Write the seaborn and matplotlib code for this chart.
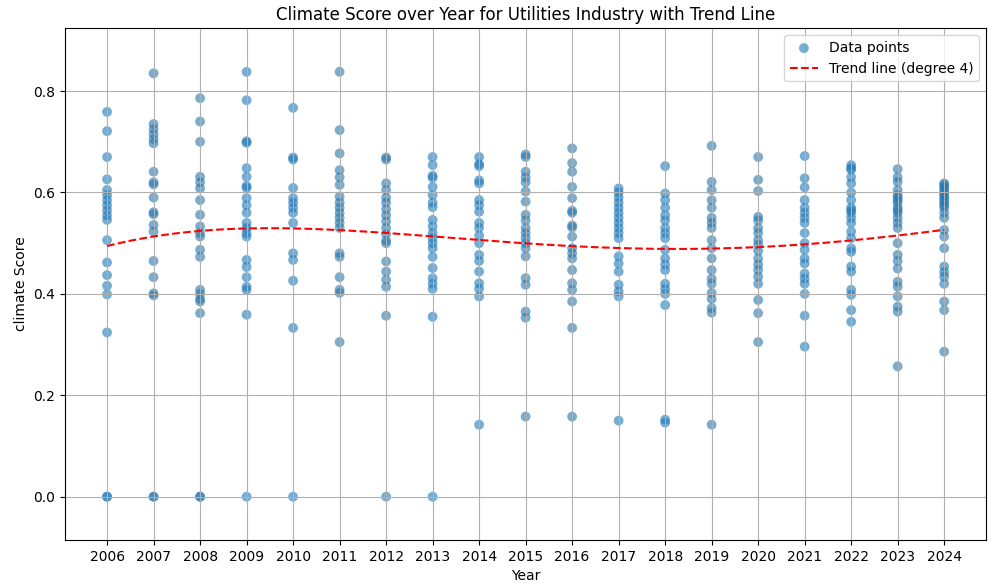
import numpy as np
import pandas as pd
import seaborn as sns
import matplotlib.pyplot as plt

# Climate scores, per year
scores = {
    2006: [0.759, 0.721, 0.670, 0.626, 0.605, 0.595, 0.585, 0.575, 0.565, 0.555, 0.546,
           0.506, 0.462, 0.437, 0.416, 0.399, 0.324, 0.0, 0.0],
    2007: [0.835, 0.735, 0.725, 0.715, 0.705, 0.697, 0.641, 0.620, 0.616, 0.590, 0.561,
           0.557, 0.536, 0.523, 0.465, 0.433, 0.401, 0.397, 0.0, 0.0],
    2008: [0.786, 0.740, 0.700, 0.631, 0.620, 0.608, 0.585, 0.556, 0.533, 0.520, 0.513,
           0.487, 0.473, 0.408, 0.400, 0.390, 0.385, 0.362, 0.0, 0.0],
    2009: [0.838, 0.782, 0.701, 0.698, 0.648, 0.631, 0.613, 0.609, 0.589, 0.575, 0.560,
           0.540, 0.530, 0.520, 0.513, 0.467, 0.453, 0.433, 0.414, 0.408, 0.359, 0.0],
    2010: [0.767, 0.669, 0.665, 0.609, 0.589, 0.580, 0.570, 0.560, 0.540, 0.480, 0.467,
           0.426, 0.333, 0.0],
    2011: [0.838, 0.723, 0.677, 0.644, 0.630, 0.615, 0.592, 0.580, 0.570, 0.560, 0.550,
           0.540, 0.530, 0.480, 0.473, 0.433, 0.408, 0.402, 0.305],
    2012: [0.669, 0.665, 0.618, 0.605, 0.590, 0.580, 0.567, 0.555, 0.543, 0.530, 0.518,
           0.505, 0.500, 0.464, 0.444, 0.428, 0.414, 0.357, 0.0],
    2013: [0.670, 0.654, 0.633, 0.629, 0.611, 0.595, 0.580, 0.571, 0.546, 0.533, 0.520,
           0.510, 0.500, 0.490, 0.473, 0.451, 0.431, 0.420, 0.410, 0.355, 0.0],
    2014: [0.670, 0.656, 0.652, 0.624, 0.618, 0.585, 0.575, 0.562, 0.540, 0.530, 0.515,
           0.500, 0.477, 0.465, 0.444, 0.421, 0.410, 0.395, 0.142],
    2015: [0.675, 0.670, 0.641, 0.630, 0.620, 0.602, 0.582, 0.556, 0.545, 0.530, 0.520,
           0.510, 0.500, 0.490, 0.474, 0.431, 0.418, 0.365, 0.353, 0.158],
    2016: [0.687, 0.658, 0.641, 0.611, 0.589, 0.564, 0.560, 0.535, 0.531, 0.513, 0.490,
           0.480, 0.470, 0.447, 0.421, 0.408, 0.385, 0.333, 0.158],
    2017: [0.608, 0.600, 0.590, 0.580, 0.570, 0.560, 0.550, 0.540, 0.530, 0.520, 0.510,
           0.474, 0.460, 0.444, 0.418, 0.405, 0.395, 0.150],
    2018: [0.652, 0.598, 0.585, 0.570, 0.555, 0.545, 0.530, 0.520, 0.510, 0.487, 0.470,
           0.458, 0.447, 0.420, 0.410, 0.400, 0.378, 0.152, 0.146],
    2019: [0.692, 0.621, 0.605, 0.585, 0.570, 0.550, 0.540, 0.530, 0.506, 0.490, 0.470,
           0.447, 0.430, 0.420, 0.402, 0.390, 0.372, 0.363, 0.142],
    2020: [0.670, 0.625, 0.603, 0.552, 0.545, 0.530, 0.520, 0.506, 0.497, 0.485, 0.470,
           0.458, 0.447, 0.434, 0.420, 0.388, 0.362, 0.305],
    2021: [0.672, 0.628, 0.610, 0.585, 0.570, 0.560, 0.550, 0.540, 0.520, 0.500, 0.487,
           0.470, 0.460, 0.440, 0.430, 0.420, 0.400, 0.357, 0.296],
    2022: [0.654, 0.648, 0.645, 0.630, 0.618, 0.600, 0.585, 0.570, 0.565, 0.560, 0.550,
           0.540, 0.523, 0.510, 0.490, 0.483, 0.454, 0.444, 0.408, 0.398, 0.368, 0.345],
    2023: [0.646, 0.630, 0.621, 0.605, 0.595, 0.590, 0.585, 0.580, 0.570, 0.565, 0.560,
           0.550, 0.540, 0.530, 0.500, 0.477, 0.465, 0.450, 0.424, 0.414, 0.395, 0.375,
           0.365, 0.257],
    2024: [0.618, 0.615, 0.610, 0.605, 0.600, 0.595, 0.590, 0.585, 0.580, 0.575, 0.570,
           0.560, 0.550, 0.526, 0.513, 0.490, 0.454, 0.443, 0.434, 0.420, 0.385, 0.368,
           0.286],
}

years = []
values = []
for yr, vals in scores.items():
    years += [yr] * len(vals)
    values += vals
data = pd.DataFrame({'Year': years, 'climate Score': values})

# Degree 4 polynomial trend
coefs = np.polyfit(data['Year'], data['climate Score'], 4)
year_range = np.linspace(data['Year'].min(), data['Year'].max(), 200)
trend = pd.DataFrame({'Year': year_range, 'Trend': np.polyval(coefs, year_range)})

fig, ax = plt.subplots(figsize=(9.88, 5.88), dpi=100)
sns.scatterplot(data=data, x='Year', y='climate Score', color='tab:blue', alpha=0.6,
                s=50, edgecolor='none', label='Data points', ax=ax)
sns.lineplot(data=trend, x='Year', y='Trend', color='red', linestyle='--',
             label='Trend line (degree 4)', ax=ax)

ax.set_title('Climate Score over Year for Utilities Industry with Trend Line')
ax.set_xlabel('Year')
ax.set_ylabel('climate Score')
ax.set_xticks(sorted(scores.keys()))
ax.set_ylim(-0.085, 0.924)
ax.grid(True)
ax.legend(loc='upper right')
plt.subplots_adjust(left=0.066, right=0.998, top=0.952, bottom=0.082)
plt.savefig('out.png')
